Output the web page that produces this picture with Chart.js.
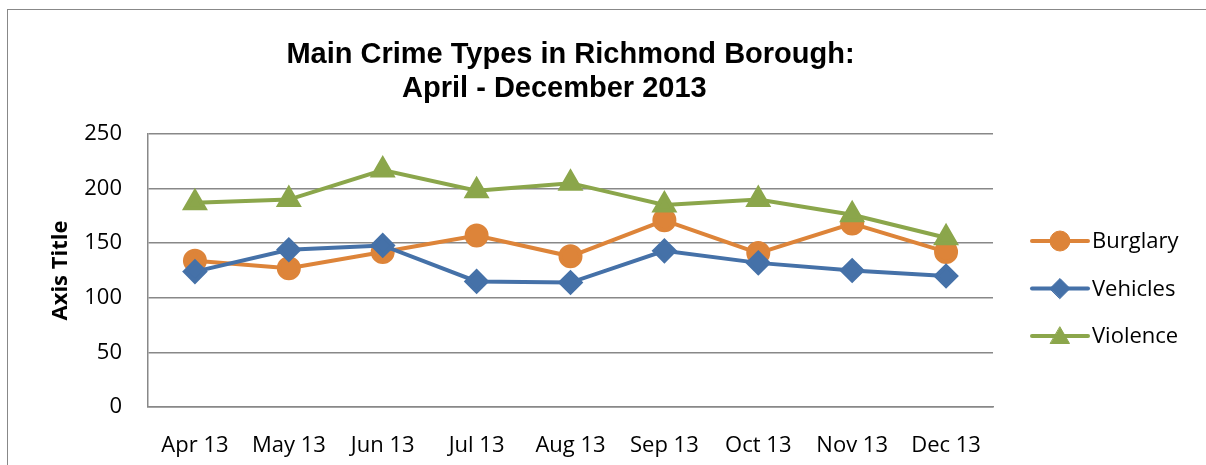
<!DOCTYPE html>
<html>
<head>
<meta charset="utf-8">
<script src="https://cdn.jsdelivr.net/npm/chart.js@4"></script>
<style>
  html, body { margin: 0; padding: 0; background: #fff; }
  #wrap { position: relative; width: 1206px; height: 465px; overflow: hidden; }
  #frame { position: absolute; left: 7px; top: 9px; width: 1210px; height: 470px; border: 1.5px solid #888; box-sizing: border-box; }
  canvas { position: absolute; left: 0; top: 0; }
</style>
</head>
<body>
<div id="wrap">
  <div id="frame"></div>
  <canvas id="chart" width="1206" height="465"></canvas>
</div>
<script>
const months = ['Apr 13', 'May 13', 'Jun 13', 'Jul 13', 'Aug 13', 'Sep 13', 'Oct 13', 'Nov 13', 'Dec 13'];
const burglary = [134, 127, 142, 157, 138, 171, 141, 168, 142];
const vehicles = [124, 144, 148, 115, 114, 143, 132, 125, 120];
const violence = [187, 190, 217, 198, 205, 185, 190, 176, 155];
const yTicks = [0, 50, 100, 150, 200, 250];

const tickFont = { family: '"Open Sans", sans-serif', size: 22 };

// legend drawn by hand so the line + marker sample looks like Excel's
const sideLegend = {
    id: 'sideLegend',
    afterDraw(chart) {
        const ctx = chart.ctx;
        const x0 = chart.chartArea.right + 39;
        chart.data.datasets.forEach(function (ds, i) {
            const y = 241 + i * 47.5;
            ctx.save();
            ctx.strokeStyle = ds.borderColor;
            ctx.fillStyle = ds.borderColor;
            ctx.lineWidth = 4;
            ctx.lineCap = 'round';
            ctx.beginPath();
            ctx.moveTo(x0, y);
            ctx.lineTo(x0 + 56, y);
            ctx.stroke();
            ctx.lineWidth = 1;
            Chart.helpers.drawPoint(ctx, {
                pointStyle: ds.pointStyle,
                radius: ds.pointRadius,
                borderWidth: 1
            }, x0 + 28, y + (ds.pointStyle === 'triangle' ? 2 : 0));
            ctx.fillStyle = '#000';
            ctx.font = '22px "Open Sans", sans-serif';
            ctx.textBaseline = 'middle';
            ctx.fillText(ds.label, x0 + 60, y + 1);
            ctx.restore();
        });
    }
};

function series(label, data, color, style, radius, order) {
    return {
        label: label,
        data: data,
        borderColor: color,
        backgroundColor: color,
        pointBackgroundColor: color,
        pointBorderColor: color,
        borderWidth: 4,
        pointStyle: style,
        pointRadius: radius,
        pointHoverRadius: radius,
        tension: 0,
        order: order
    };
}

new Chart(document.getElementById('chart'), {
    type: 'line',
    data: {
        labels: months,
        datasets: [
            series('Burglary', burglary, '#DD8439', 'circle', 10, 3),
            series('Vehicles', vehicles, '#4571A8', 'rectRot', 10, 2),
            series('Violence', violence, '#8BA64B', 'triangle', 11, 1)
        ]
    },
    options: {
        responsive: false,
        animation: false,
        layout: {
            padding: { left: 48, right: 213, top: 0, bottom: 0 }
        },
        plugins: {
            legend: { display: false },
            tooltip: { enabled: false },
            title: {
                display: true,
                fullSize: false,
                // trailing spaces nudge the second line left, as in the original
                text: ['Main Crime Types in Richmond Borough:', 'April - December 2013    '],
                color: '#000',
                font: { family: '"Liberation Sans", Arial, sans-serif', size: 29, weight: 'bold', lineHeight: 1.18 },
                padding: { top: 38, bottom: 27.6 }
            }
        },
        scales: {
            x: {
                offset: true,
                grid: { display: false },
                border: { color: '#888', width: 1.5 },
                ticks: { color: '#000', font: tickFont, padding: 18, maxRotation: 0 },
                afterFit: function (scale) { scale.height = 58; }
            },
            y: {
                min: 0,
                max: 250,
                afterBuildTicks: function (scale) {
                    scale.ticks = yTicks.map(function (v) { return { value: v }; });
                },
                grid: { color: '#888', lineWidth: 1.5, drawTicks: false },
                border: { color: '#888', width: 1.5 },
                ticks: { color: '#000', font: tickFont, padding: 26 },
                title: {
                    display: true,
                    text: 'Axis Title',
                    color: '#000',
                    font: { family: '"Open Sans", sans-serif', size: 22, weight: 'bold' },
                    padding: 0
                },
                afterFit: function (scale) { scale.width = 100; }
            }
        }
    },
    plugins: [sideLegend]
});
</script>
</body>
</html>
